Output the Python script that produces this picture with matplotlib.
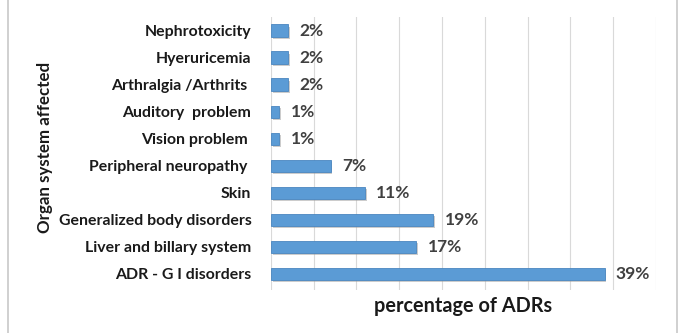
import matplotlib.pyplot as plt
import matplotlib.patheffects as pe
from matplotlib.lines import Line2D

# ---- data ---------------------------------------------------------------
categories = [
    "Nephrotoxicity",
    "Hyeruricemia",
    "Arthralgia /Arthrits ",
    "Auditory  problem",
    "Vision problem ",
    "Peripheral neuropathy ",
    "Skin",
    "Generalized body disorders",
    "Liver and billary system",
    "ADR - G I disorders",
]
percentages = [2, 2, 2, 1, 1, 7, 11, 19, 17, 39]
value_labels = [f"{v}%" for v in percentages]

plt.rcParams["font.family"] = ["Lato", "DejaVu Sans"]

fig = plt.figure(figsize=(6.84, 3.33), dpi=100)
ax = fig.add_axes([0.396, 0.129, 0.563, 0.820])

ypos = list(range(len(categories)))
bars = ax.barh(ypos, percentages, height=0.45, color="#5b9bd5",
               edgecolor="#4a86c0", linewidth=0.6, zorder=3)
for b in bars:
    b.set_path_effects([pe.SimplePatchShadow(offset=(1.2, -1.5),
                                             shadow_rgbFace="#9a9a9a",
                                             alpha=0.5),
                        pe.Normal()])

for y, v, lab in zip(ypos, percentages, value_labels):
    ax.text(v + 1.3, y, lab, va="center", ha="left", fontsize=12.5,
            fontweight="bold", color="#404040")

ax.set_xlim(0, 45)
ax.set_ylim(9.6, -0.5)
ax.set_xticks(range(0, 46, 5))
ax.set_xticklabels([])
ax.tick_params(axis="x", length=0)
ax.tick_params(axis="y", length=0, pad=14)
ax.set_yticks(ypos)
ax.set_yticklabels(categories, fontsize=11.4, fontweight="bold", color="#1a1a1a")

ax.xaxis.grid(True, color="#d9d9d9", linewidth=0.8, zorder=0)
ax.set_axisbelow(True)
for s in ax.spines.values():
    s.set_visible(False)

ax.set_xlabel("percentage of ADRs", fontsize=14.3, fontweight="bold",
              color="#1a1a1a", labelpad=1)

fig.text(0.066, 0.556, "Organ system affected", rotation=90, va="center",
         ha="center", fontsize=12.2, fontweight="bold", color="#1a1a1a")

# outer chart frame (left and right edges)
fig.add_artist(Line2D([0.012, 0.012], [0, 1], transform=fig.transFigure,
                      color="#c8c8c8", linewidth=1.2))
fig.add_artist(Line2D([0.990, 0.990], [0, 1], transform=fig.transFigure,
                      color="#c8c8c8", linewidth=1.2))

fig.savefig("out.png", dpi=100, facecolor="white")
